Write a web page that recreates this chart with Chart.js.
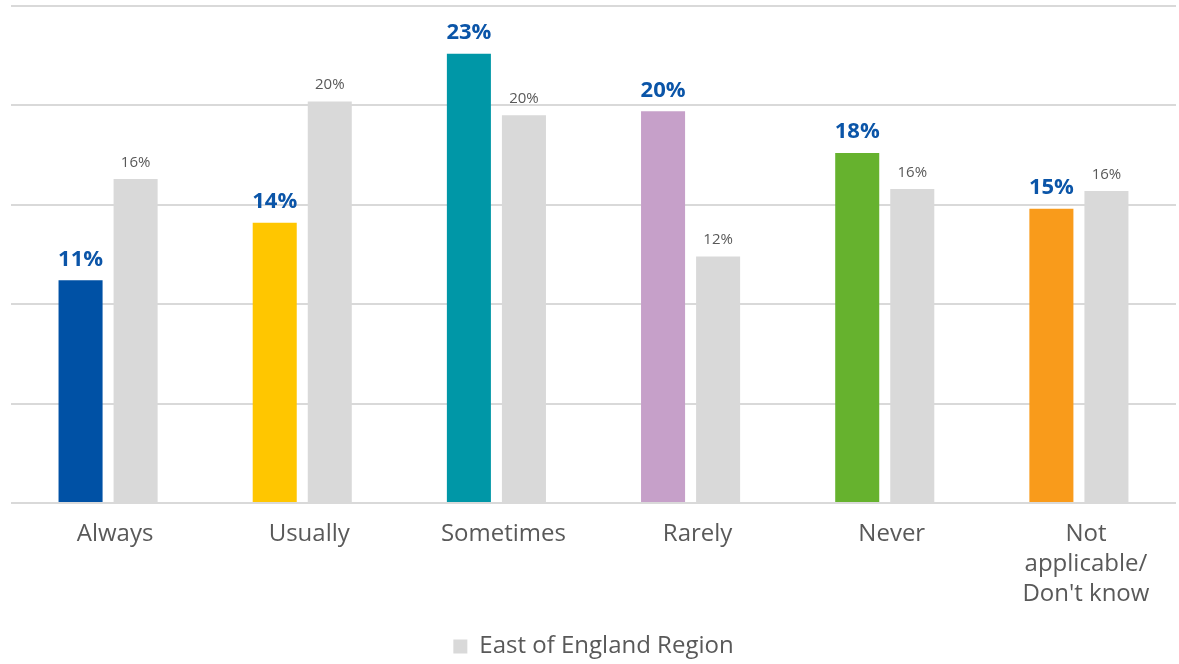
<!DOCTYPE html>
<html>
<head>
<meta charset="utf-8">
<script src="https://cdn.jsdelivr.net/npm/chart.js@4/dist/chart.umd.min.js"></script>
<style>
  html, body { margin: 0; padding: 0; background: #ffffff; }
  #wrap { width: 1179px; height: 664px; }
</style>
</head>
<body>
<div id="wrap"><canvas id="chart" width="1179" height="664"></canvas></div>
<script>
// Response categories
const categories = ['Always', 'Usually', 'Sometimes', 'Rarely', 'Never', ['Not', 'applicable/', "Don't know"]];

// Share of respondents (%) — local area
const localValues = [11.2, 14.1, 22.6, 19.7, 17.6, 14.8];
// Share of respondents (%) — East of England Region
const regionValues = [16.3, 20.2, 19.5, 12.4, 15.8, 15.7];

const localColors = ['#0051A5', '#FFC600', '#0097A7', '#C6A0C9', '#66B22E', '#F99B1B'];
const regionColor = '#D9D9D9';

const yTicks = [0, 5, 10, 15, 20, 25];

const FONT = "'Century Gothic', 'Open Sans', sans-serif";

// Draws the value labels above each bar
const valueLabels = {
  id: 'valueLabels',
  afterDatasetsDraw(chart) {
    const ctx = chart.ctx;
    ctx.save();
    ctx.textAlign = 'center';
    ctx.textBaseline = 'bottom';
    chart.data.datasets.forEach((ds, di) => {
      const meta = chart.getDatasetMeta(di);
      meta.data.forEach((bar, i) => {
        const txt = Math.round(ds.data[i]) + '%';
        if (di === 0) {
          ctx.font = "bold 22px " + FONT;
          ctx.fillStyle = '#0B55A8';
          ctx.fillText(txt, bar.x, bar.y - 10);
        } else {
          ctx.font = "15px " + FONT;
          ctx.fillStyle = '#595959';
          ctx.fillText(txt, bar.x, bar.y - 9);
        }
      });
    });
    ctx.restore();
  }
};

new Chart(document.getElementById('chart'), {
  type: 'bar',
  data: {
    labels: categories,
    datasets: [
      {
        label: 'Local area',
        data: localValues,
        backgroundColor: localColors,
        categoryPercentage: 0.567,
        barPercentage: 0.8
      },
      {
        label: 'East of England Region',
        data: regionValues,
        backgroundColor: regionColor,
        categoryPercentage: 0.567,
        barPercentage: 0.8
      }
    ]
  },
  options: {
    responsive: false,
    animation: false,
    layout: { padding: { left: 11, right: 3, top: 6, bottom: -4.4 } },
    plugins: {
      tooltip: { enabled: false },
      legend: {
        position: 'bottom',
        labels: {
          filter: (item) => item.datasetIndex === 1,
          boxWidth: 14,
          boxHeight: 14,
          padding: 9.4,
          color: '#595959',
          font: { family: FONT, size: 24 }
        }
      }
    },
    scales: {
      x: {
        grid: { display: false, drawTicks: false },
        border: { display: false },
        ticks: {
          color: '#595959',
          font: { family: FONT, size: 24, lineHeight: 1.25 },
          padding: 16,
          labelOffset: 7,
          maxRotation: 0,
          autoSkip: false
        }
      },
      y: {
        min: 0,
        max: 25,
        afterBuildTicks: (axis) => { axis.ticks = yTicks.map(v => ({ value: v })); },
        grid: { color: '#D9D9D9', lineWidth: 2, drawTicks: false },
        border: { display: false },
        ticks: { display: false }
      }
    }
  },
  plugins: [valueLabels]
});
</script>
</body>
</html>
